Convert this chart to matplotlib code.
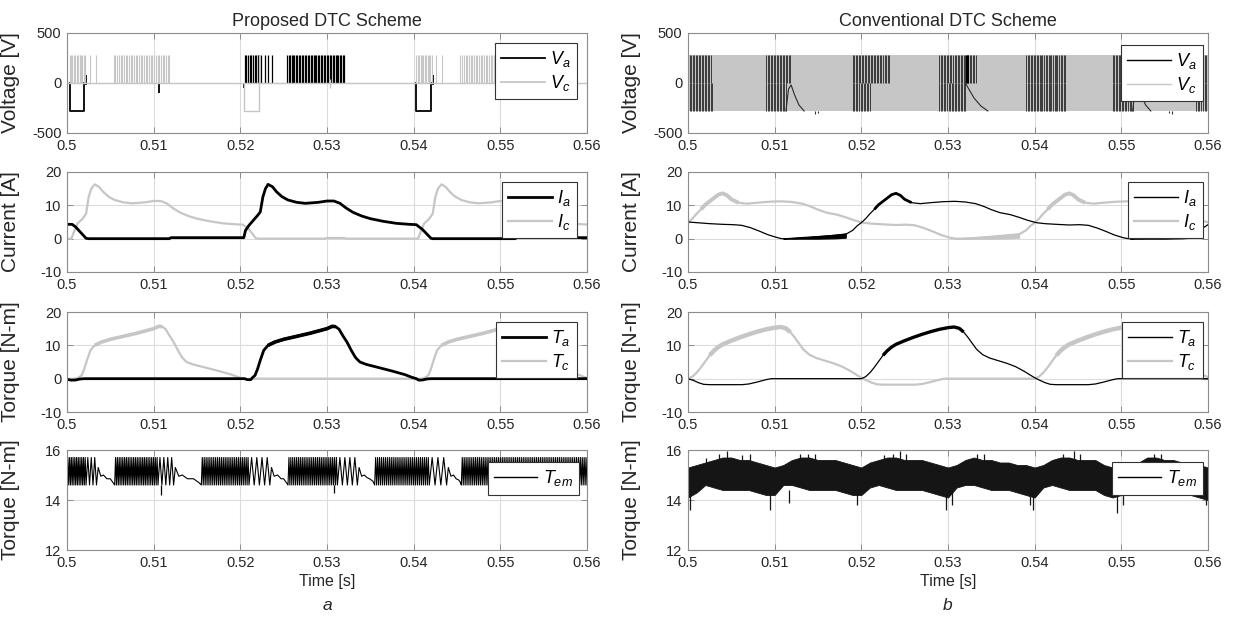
import numpy as np
import matplotlib
matplotlib.use("Agg")
import matplotlib.pyplot as plt
from matplotlib.lines import Line2D

plt.rcParams['font.family'] = ['Liberation Sans', 'DejaVu Sans']
plt.rcParams['mathtext.fontset'] = 'custom'
plt.rcParams['mathtext.rm'] = 'Liberation Sans'
plt.rcParams['mathtext.it'] = 'Liberation Sans:italic'

BLACK = 'black'
GRAY = '#c6c6c6'
TXT = '#262626'
VDC = 280

XTICKS = [0.5, 0.51, 0.52, 0.53, 0.54, 0.55, 0.56]
XTICKLABELS = ['0.5', '0.51', '0.52', '0.53', '0.54', '0.55', '0.56']

# ---------------- (a) proposed DTC ----------------
# voltage pulse bursts: (start, end, number of pulses) to +VDC
pa_vc_bursts = [(0.5003, 0.5021, 12), (0.5026, 0.5026, 1), (0.5033, 0.5033, 1),
                (0.5054, 0.5118, 34), (0.5219, 0.5221, 2),
                (0.5403, 0.5421, 12), (0.5426, 0.5426, 1), (0.5433, 0.5433, 1),
                (0.5454, 0.5518, 34)]
pa_va_bursts = [(0.5205, 0.5224, 11), (0.5228, 0.5236, 3), (0.5254, 0.5320, 40)]
# negative conduction blocks (start, end) at -VDC
pa_va_neg = [(0.5003, 0.5020), (0.5403, 0.5420)]
pa_vc_neg = [(0.5204, 0.5221)]
# short spikes (t, low, high)
pa_va_spikes = [(0.5022, -20, 80), (0.5106, -100, 140), (0.5118, 0, 150),
                (0.5204, -50, 0), (0.5422, -20, 80), (0.5506, -70, 0), (0.5517, 0, 60)]
pa_vc_spikes = [(0.5304, -50, 40)]

# phase currents
pa_t_ia = [0.5000, 0.5006, 0.5010, 0.5016, 0.5022, 0.5025, 0.5118, 0.5120, 0.5204,
           0.5206, 0.5210, 0.5215, 0.5220, 0.5223, 0.5226, 0.5229, 0.5232, 0.5234,
           0.5237, 0.5242, 0.5248, 0.5255, 0.5265, 0.5275, 0.5290, 0.5300, 0.5308,
           0.5315, 0.5322, 0.5330, 0.5340, 0.5350, 0.5365, 0.5380, 0.5395, 0.5403,
           0.5410, 0.5420, 0.5422, 0.5517, 0.5519, 0.5600]
pa_ia = [4.3, 4.3, 3.5, 1.8, 0.1, 0.0, 0.0, 0.3, 0.3,
         2.5, 4.0, 5.5, 7.0, 8.0, 12.5, 15.0, 16.3, 16.0,
         15.6, 14.0, 12.6, 11.6, 10.9, 10.6, 10.9, 11.3, 11.3,
         10.6, 9.2, 7.9, 6.8, 6.0, 5.2, 4.6, 4.3, 4.2,
         2.8, 0.1, 0.0, 0.0, 0.3, 0.3]
pa_t_ic = [0.5000, 0.5005, 0.5008, 0.5012, 0.5018, 0.5022, 0.5025, 0.5028, 0.5032,
           0.5034, 0.5037, 0.5042, 0.5048, 0.5055, 0.5065, 0.5075, 0.5090, 0.5100,
           0.5108, 0.5115, 0.5122, 0.5130, 0.5140, 0.5150, 0.5165, 0.5180, 0.5195,
           0.5203, 0.5210, 0.5218, 0.5222, 0.5298, 0.5300, 0.5320, 0.5322, 0.5405,
           0.5408, 0.5412, 0.5418, 0.5422, 0.5425, 0.5428, 0.5432, 0.5434, 0.5437,
           0.5442, 0.5448, 0.5455, 0.5465, 0.5475, 0.5490, 0.5500, 0.5508, 0.5515,
           0.5522, 0.5530, 0.5540, 0.5550, 0.5565, 0.5580, 0.5595, 0.5600]
pa_ic = [0.0, 0.0, 2.0, 4.5, 6.0, 7.5, 12.5, 15.0, 16.3,
         16.0, 15.5, 14.0, 12.6, 11.6, 10.9, 10.6, 10.9, 11.3,
         11.3, 10.6, 9.2, 7.9, 6.8, 6.0, 5.2, 4.6, 4.3,
         4.2, 2.8, 0.1, 0.0, 0.0, 0.2, 0.2, 0.0, 0.0,
         2.0, 4.5, 6.0, 7.5, 12.5, 15.0, 16.3, 16.0, 15.5,
         14.0, 12.6, 11.6, 10.9, 10.6, 10.9, 11.3, 11.3, 10.6,
         9.2, 7.9, 6.8, 6.0, 5.2, 4.6, 4.3, 4.25]

# phase torques
pa_t_ta = [0.5000, 0.5005, 0.5010, 0.5015, 0.5020, 0.5205, 0.5208, 0.5212, 0.5214,
           0.5217, 0.5220, 0.5223, 0.5227, 0.5232, 0.5240, 0.5250, 0.5260, 0.5270,
           0.5280, 0.5290, 0.5300, 0.5306, 0.5310, 0.5314, 0.5318, 0.5323, 0.5328,
           0.5333, 0.5338, 0.5345, 0.5360, 0.5375, 0.5390, 0.5398, 0.5403, 0.5406,
           0.5410, 0.5415, 0.5420, 0.5600]
pa_ta = [-0.2, -0.45, -0.4, -0.1, 0.0, 0.0, -0.3, -0.3, 0.3,
         1.0, 3.0, 5.5, 8.5, 10.0, 11.0, 11.8, 12.4, 13.0,
         13.6, 14.3, 15.0, 15.7, 15.6, 14.8, 13.0, 11.0, 8.5,
         6.3, 5.0, 4.3, 3.3, 2.3, 1.2, 0.4, 0.0, -0.45,
         -0.4, -0.1, 0.0, 0.0]
pa_t_tc = [0.5000, 0.5010, 0.5013, 0.5017, 0.5020, 0.5023, 0.5027, 0.5032, 0.5040,
           0.5050, 0.5060, 0.5070, 0.5080, 0.5090, 0.5100, 0.5106, 0.5110, 0.5114,
           0.5118, 0.5123, 0.5128, 0.5133, 0.5138, 0.5145, 0.5160, 0.5175, 0.5190,
           0.5198, 0.5203, 0.5208, 0.5212, 0.5410, 0.5413, 0.5417, 0.5420, 0.5423,
           0.5427, 0.5432, 0.5440, 0.5450, 0.5460, 0.5470, 0.5480, 0.5490, 0.5500,
           0.5506, 0.5510, 0.5514, 0.5518, 0.5523, 0.5528, 0.5533, 0.5538, 0.5545,
           0.5560, 0.5575, 0.5590, 0.5598, 0.5600]
pa_tc = [-0.1, 0.0, 0.3, 1.0, 3.0, 5.5, 8.5, 10.0, 11.0,
         11.8, 12.4, 13.0, 13.6, 14.3, 15.0, 15.7, 15.6, 14.8,
         13.0, 11.0, 8.5, 6.3, 5.0, 4.3, 3.3, 2.3, 1.2,
         0.4, 0.0, -0.2, 0.0, 0.0, 0.3, 1.0, 3.0, 5.5,
         8.5, 10.0, 11.0, 11.8, 12.4, 13.0, 13.6, 14.3, 15.0,
         15.7, 15.6, 14.8, 13.0, 11.0, 8.5, 6.3, 5.0, 4.3,
         3.3, 2.3, 1.2, 0.4, 0.2]
# spans with visible torque ripple (drawn thicker)
pa_ta_ripple = [(0.5232, 0.5310)]
pa_tc_ripple = [(0.5032, 0.5110), (0.5432, 0.5510)]

# electromagnetic torque: hysteresis bursts (start, end, teeth) between 14.6 and 15.7
TEM_LO, TEM_HI = 14.6, 15.7
pa_tem_bursts = [(0.5000, 0.5022, 11), (0.5022, 0.5034, 3),
                 (0.5055, 0.5105, 24), (0.5105, 0.5123, 4),
                 (0.5155, 0.5210, 25), (0.5210, 0.5234, 4),
                 (0.5255, 0.5312, 26), (0.5312, 0.5335, 4),
                 (0.5355, 0.5418, 28), (0.5418, 0.5438, 3),
                 (0.5455, 0.5600, 66)]
# free decay between bursts
pa_tem_relax_t = [0.5036, 0.5039, 0.5042, 0.5046, 0.5050, 0.5053,
                  0.5125, 0.5129, 0.5133, 0.5139, 0.5146, 0.5152,
                  0.5236, 0.5239, 0.5243, 0.5247, 0.5250, 0.5253,
                  0.5337, 0.5340, 0.5343, 0.5346, 0.5349, 0.5353,
                  0.5440, 0.5443, 0.5446, 0.5449, 0.5452, 0.5454]
pa_tem_relax = [15.3, 14.95, 15.0, 14.85, 14.85, 14.7,
                15.3, 14.95, 15.0, 14.85, 14.85, 14.7,
                15.3, 14.95, 15.0, 14.85, 14.85, 14.7,
                15.3, 14.95, 15.0, 14.9, 14.85, 14.75,
                15.3, 14.95, 15.0, 14.85, 14.8, 14.7]
pa_tem_spikes = [(0.5108, 14.2), (0.5308, 14.3)]

# ---------------- (b) conventional DTC ----------------
# V_a switching zones (start, end, pulses) in upper (+VDC) and lower (-VDC) half
pb_va_top = [(0.5000, 0.5026, 16), (0.5090, 0.5118, 17), (0.5190, 0.5232, 25),
             (0.5290, 0.5332, 25), (0.5390, 0.5435, 27), (0.5490, 0.5520, 18),
             (0.5586, 0.5600, 8)]
pb_va_bot = [(0.5000, 0.5028, 17), (0.5090, 0.5113, 14), (0.5190, 0.5210, 12),
             (0.5290, 0.5320, 18), (0.5390, 0.5435, 27), (0.5490, 0.5513, 14),
             (0.5586, 0.5600, 8)]
pb_va_arc1_t = [0.5113, 0.5116, 0.5119, 0.5123, 0.5128, 0.5134]
pb_va_arc1 = [-280, -60, -20, -120, -220, -280]
pb_va_arc2_t = [0.5320, 0.5324, 0.5330, 0.5338, 0.5346]
pb_va_arc2 = [0, -60, -150, -230, -280]
pb_va_arc3_t = [0.5513, 0.5516, 0.5519, 0.5523, 0.5528, 0.5534]
pb_va_arc3 = [-280, -60, -20, -120, -220, -280]
pb_va_spikes = [(0.5147, -310), (0.5150, -300), (0.5555, -300), (0.5558, -310)]
pb_va_heavy = [0.5322]
# V_c switches between +VDC and -VDC over the whole window
pb_vc_span = [0.5000, 0.5600]

pb_t_ia = [0.5000, 0.5010, 0.5025, 0.5040, 0.5052, 0.5062, 0.5072, 0.5082, 0.5092,
           0.5102, 0.5108, 0.5125, 0.5182, 0.5190, 0.5195, 0.5200, 0.5205, 0.5210,
           0.5215, 0.5220, 0.5225, 0.5230, 0.5235, 0.5240, 0.5245, 0.5250, 0.5258,
           0.5268, 0.5280, 0.5295, 0.5308, 0.5320, 0.5332, 0.5342, 0.5350, 0.5360,
           0.5372, 0.5382, 0.5392, 0.5402, 0.5412, 0.5425, 0.5440, 0.5452, 0.5462,
           0.5472, 0.5482, 0.5492, 0.5502, 0.5508, 0.5525, 0.5582, 0.5590, 0.5600]
pb_ia = [5.0, 4.8, 4.5, 4.3, 4.2, 4.0, 3.3, 2.3, 1.2,
         0.4, 0.0, 0.0, 1.3, 2.5, 3.8, 4.8, 6.0, 7.5,
         8.8, 10.2, 11.2, 12.2, 13.2, 13.6, 13.0, 11.8, 10.8,
         10.5, 10.8, 11.1, 11.2, 11.0, 10.5, 9.6, 8.7, 7.8,
         7.2, 6.4, 5.5, 4.8, 4.5, 4.3, 4.1, 4.2, 4.0,
         3.2, 2.2, 1.1, 0.3, 0.0, 0.0, 1.3, 2.5, 4.2]
pb_t_ic = [0.5000, 0.5005, 0.5010, 0.5015, 0.5020, 0.5025, 0.5030, 0.5035, 0.5040,
           0.5045, 0.5050, 0.5058, 0.5068, 0.5080, 0.5095, 0.5108, 0.5120, 0.5132,
           0.5142, 0.5150, 0.5160, 0.5172, 0.5182, 0.5192, 0.5202, 0.5212, 0.5225,
           0.5240, 0.5252, 0.5262, 0.5272, 0.5282, 0.5292, 0.5302, 0.5308, 0.5325,
           0.5382, 0.5390, 0.5395, 0.5400, 0.5405, 0.5410, 0.5415, 0.5420, 0.5425,
           0.5430, 0.5435, 0.5440, 0.5445, 0.5450, 0.5458, 0.5468, 0.5480, 0.5495,
           0.5508, 0.5520, 0.5532, 0.5542, 0.5550, 0.5560, 0.5572, 0.5582, 0.5592,
           0.5600]
pb_ic = [4.8, 6.0, 7.5, 8.8, 10.2, 11.2, 12.2, 13.2, 13.6,
         13.0, 11.8, 10.8, 10.5, 10.8, 11.1, 11.2, 11.0, 10.5,
         9.6, 8.7, 7.8, 7.2, 6.4, 5.5, 4.8, 4.5, 4.3,
         4.1, 4.2, 4.0, 3.2, 2.2, 1.1, 0.3, 0.0, 0.0,
         1.3, 2.5, 3.8, 4.8, 6.0, 7.5, 8.8, 10.2, 11.2,
         12.2, 13.2, 13.6, 13.0, 11.8, 10.8, 10.5, 10.8, 11.1,
         11.2, 11.0, 10.5, 9.6, 8.7, 7.8, 7.2, 6.4, 5.5,
         4.9]
# chattering band while the phase is switched off: (t, low, high)
pb_ia_band = [(0.5110, 0.0, 0.1), (0.5125, 0.0, 0.4), (0.5150, 0.0, 0.8),
              (0.5170, 0.1, 1.2), (0.5182, 0.3, 1.6)]
pb_ia_band2 = [(0.5510, 0.0, 0.1), (0.5525, 0.0, 0.4), (0.5550, 0.0, 0.8),
               (0.5570, 0.1, 1.2), (0.5582, 0.3, 1.6)]
pb_ic_band = [(0.5310, 0.0, 0.1), (0.5325, 0.0, 0.4), (0.5350, 0.0, 0.8),
              (0.5370, 0.1, 1.2), (0.5382, 0.3, 1.6)]
pb_ia_ripple = [(0.5215, 0.5262)]
pb_ic_ripple = [(0.5015, 0.5062), (0.5415, 0.5462)]

pb_t_ta = [0.5000, 0.5006, 0.5012, 0.5018, 0.5025, 0.5062, 0.5070, 0.5080, 0.5090,
           0.5096, 0.5200, 0.5205, 0.5210, 0.5215, 0.5220, 0.5225, 0.5230, 0.5235,
           0.5240, 0.5250, 0.5260, 0.5270, 0.5280, 0.5290, 0.5300, 0.5307, 0.5313,
           0.5318, 0.5323, 0.5328, 0.5333, 0.5340, 0.5348, 0.5358, 0.5368, 0.5378,
           0.5388, 0.5396, 0.5402, 0.5406, 0.5412, 0.5418, 0.5425, 0.5462, 0.5470,
           0.5480, 0.5490, 0.5496, 0.5600]
pb_ta = [0.0, -0.5, -1.2, -1.7, -1.8, -1.8, -1.6, -1.0, -0.3,
         0.0, 0.0, 0.6, 1.8, 3.4, 5.2, 7.0, 8.4, 9.5,
         10.3, 11.4, 12.4, 13.3, 14.1, 14.8, 15.3, 15.5, 15.1,
         14.0, 12.4, 10.6, 8.8, 7.2, 6.2, 5.4, 4.6, 3.6,
         2.2, 0.9, 0.0, -0.5, -1.2, -1.7, -1.8, -1.8, -1.6,
         -1.0, -0.3, 0.0, 0.0]
pb_t_tc = [0.5000, 0.5005, 0.5010, 0.5015, 0.5020, 0.5025, 0.5030, 0.5035, 0.5040,
           0.5050, 0.5060, 0.5070, 0.5080, 0.5090, 0.5100, 0.5107, 0.5113, 0.5118,
           0.5123, 0.5128, 0.5133, 0.5140, 0.5148, 0.5158, 0.5168, 0.5178, 0.5188,
           0.5196, 0.5202, 0.5206, 0.5212, 0.5218, 0.5225, 0.5262, 0.5270, 0.5280,
           0.5290, 0.5296, 0.5400, 0.5405, 0.5410, 0.5415, 0.5420, 0.5425, 0.5430,
           0.5435, 0.5440, 0.5450, 0.5460, 0.5470, 0.5480, 0.5490, 0.5500, 0.5507,
           0.5513, 0.5518, 0.5523, 0.5528, 0.5533, 0.5540, 0.5548, 0.5558, 0.5568,
           0.5578, 0.5588, 0.5596, 0.5600]
pb_tc = [0.0, 0.6, 1.8, 3.4, 5.2, 7.0, 8.4, 9.5, 10.3,
         11.4, 12.4, 13.3, 14.1, 14.8, 15.3, 15.5, 15.1, 14.0,
         12.4, 10.6, 8.8, 7.2, 6.2, 5.4, 4.6, 3.6, 2.2,
         0.9, 0.0, -0.5, -1.2, -1.7, -1.8, -1.8, -1.6, -1.0,
         -0.3, 0.0, 0.0, 0.6, 1.8, 3.4, 5.2, 7.0, 8.4,
         9.5, 10.3, 11.4, 12.4, 13.3, 14.1, 14.8, 15.3, 15.5,
         15.1, 14.0, 12.4, 10.6, 8.8, 7.2, 6.2, 5.4, 4.6,
         3.6, 2.2, 0.9, 0.5]
pb_ta_ripple = [(0.5222, 0.5318)]
pb_tc_ripple = [(0.5022, 0.5118), (0.5422, 0.5518)]

# electromagnetic torque envelope, sampled every 1 ms
pb_tem_t = [0.500, 0.501, 0.502, 0.503, 0.504, 0.505, 0.506, 0.507, 0.508, 0.509,
            0.510, 0.511, 0.512, 0.513, 0.514, 0.515, 0.516, 0.517, 0.518, 0.519,
            0.520, 0.521, 0.522, 0.523, 0.524, 0.525, 0.526, 0.527, 0.528, 0.529,
            0.530, 0.531, 0.532, 0.533, 0.534, 0.535, 0.536, 0.537, 0.538, 0.539,
            0.540, 0.541, 0.542, 0.543, 0.544, 0.545, 0.546, 0.547, 0.548, 0.549,
            0.550, 0.551, 0.552, 0.553, 0.554, 0.555, 0.556, 0.557, 0.558, 0.559,
            0.560]
pb_tem_hi = [15.3, 15.4, 15.5, 15.6, 15.7, 15.7, 15.6, 15.6, 15.5, 15.4,
             15.3, 15.4, 15.6, 15.7, 15.7, 15.6, 15.6, 15.6, 15.5, 15.4,
             15.3, 15.5, 15.6, 15.7, 15.7, 15.6, 15.6, 15.6, 15.5, 15.4,
             15.3, 15.4, 15.6, 15.7, 15.6, 15.6, 15.5, 15.5, 15.4, 15.4,
             15.3, 15.4, 15.6, 15.7, 15.7, 15.6, 15.6, 15.6, 15.4, 15.3,
             15.3, 15.4, 15.5, 15.7, 15.7, 15.6, 15.6, 15.5, 15.5, 15.4,
             15.3]
pb_tem_lo = [14.1, 14.3, 14.6, 14.5, 14.4, 14.4, 14.4, 14.4, 14.3, 14.2,
             14.2, 14.6, 14.6, 14.5, 14.4, 14.4, 14.4, 14.4, 14.3, 14.2,
             14.2, 14.5, 14.6, 14.5, 14.4, 14.4, 14.4, 14.4, 14.3, 14.2,
             14.1, 14.5, 14.6, 14.6, 14.5, 14.4, 14.4, 14.4, 14.3, 14.2,
             14.1, 14.5, 14.6, 14.5, 14.4, 14.4, 14.4, 14.4, 14.2, 14.1,
             14.2, 14.5, 14.5, 14.4, 14.4, 14.4, 14.4, 14.4, 14.2, 14.1,
             14.0]
# ripple extremes that stick out of the envelope (t, value)
pb_tem_spikes_dn = [(0.5002, 13.6), (0.5095, 13.6), (0.5117, 13.9), (0.5195, 13.8),
                    (0.5298, 13.6), (0.5305, 13.8), (0.5395, 13.8), (0.5398, 13.6),
                    (0.5495, 13.5), (0.5502, 13.8), (0.5598, 13.8)]
pb_tem_spikes_up = [(0.5021, 15.7), (0.5036, 15.85), (0.5045, 15.95), (0.5062, 15.8),
                    (0.5071, 15.85), (0.5129, 15.85), (0.5138, 15.85), (0.5146, 15.85),
                    (0.5226, 15.8), (0.5237, 15.85), (0.5245, 15.95), (0.5252, 15.85),
                    (0.5333, 15.85), (0.5342, 15.85), (0.5433, 15.85), (0.5445, 15.95),
                    (0.5452, 15.85), (0.5538, 15.85), (0.5546, 15.85)]

# ---------------- figure ----------------
W, H = 1234, 621
fig = plt.figure(figsize=(W / 100, H / 100), dpi=100)
COL_LEFT = [67, 688]
ROW_TOP = [33, 172, 312, 450]
AX_W, AX_H = 520, 100

axes = [[fig.add_axes([c / W, 1 - (r + AX_H) / H, AX_W / W, AX_H / H]) for c in COL_LEFT]
        for r in ROW_TOP]


def style(ax, ylim, yticks, ylabel):
    ax.set_xlim(0.5, 0.56)
    ax.set_ylim(*ylim)
    ax.set_xticks(XTICKS)
    ax.set_xticklabels(XTICKLABELS)
    ax.set_yticks(yticks)
    ax.set_yticklabels([str(v) for v in yticks])
    ax.grid(True, color='#dcdcdc', lw=0.8)
    ax.set_axisbelow(True)
    for s in ax.spines.values():
        s.set_color('#8c8c8c')
        s.set_linewidth(0.8)
    ax.tick_params(direction='in', length=4, width=0.7, color='#8c8c8c', top=True,
                   right=True, labelsize=10.5, labelcolor=TXT, pad=4)
    ax.set_ylabel(ylabel, fontsize=15, color=TXT)
    ax.yaxis.set_label_coords(-0.09, 0.5)


def legend(ax, labels, lws, xpad, ypad):
    handles = [Line2D([], [], color=c, lw=w) for c, w in zip([BLACK, GRAY], lws)]
    leg = ax.legend(handles[:len(labels)], labels, loc='upper right',
                    bbox_to_anchor=(1 - xpad / AX_W, 1 - ypad / AX_H), fontsize=13,
                    handlelength=2.4, handletextpad=0.3, borderpad=0.35,
                    labelspacing=0.2, frameon=True, fancybox=False, framealpha=1,
                    borderaxespad=0)
    leg.get_frame().set_edgecolor('#333333')
    leg.get_frame().set_linewidth(0.8)


def pulses(ax, bursts, level, color, lw):
    for t0, t1, n in bursts:
        ax.vlines(np.linspace(t0, t1, n), 0, level, color=color, lw=lw)


def blocks(ax, spans, color, lw):
    for t0, t1 in spans:
        ax.plot([t0, t0, t1, t1], [0, -VDC, -VDC, 0], color=color, lw=lw)


def ripple(ax, t, v, spans, color, lw):
    t = np.asarray(t)
    v = np.asarray(v)
    for a, b in spans:
        m = (t >= a) & (t <= b)
        ax.plot(t[m], v[m], color=color, lw=lw, solid_capstyle='butt')


def band(ax, rows, color):
    rows = np.asarray(rows)
    ax.fill_between(rows[:, 0], rows[:, 1], rows[:, 2], color=color, lw=0.8,
                    edgecolor=color)


# ---- (a) voltage
ax = axes[0][0]
blocks(ax, pa_va_neg, BLACK, 1.3)
pulses(ax, pa_va_bursts, VDC, BLACK, 0.9)
for t, lo, hi in pa_va_spikes:
    ax.vlines(t, lo, hi, color=BLACK, lw=1.3)
ax.plot([0.5, 0.56], [0, 0], color=GRAY, lw=1.0)
pulses(ax, pa_vc_bursts, VDC, GRAY, 0.8)
blocks(ax, pa_vc_neg, GRAY, 1.0)
for t, lo, hi in pa_vc_spikes:
    ax.vlines(t, lo, hi, color=GRAY, lw=1.0)
style(ax, (-500, 500), [-500, 0, 500], 'Voltage [V]')
ax.set_title('Proposed DTC Scheme', fontsize=13, color=TXT, pad=5)
legend(ax, [r'$V_a$', r'$V_c$'], [1.3, 1.3], 10, 10)

# ---- (b) voltage
ax = axes[0][1]
ax.fill_between(pb_vc_span, -VDC, VDC, color=GRAY, lw=0)
pulses(ax, pb_va_top, VDC, '#3a3a3a', 0.7)
pulses(ax, pb_va_bot, -VDC, '#3a3a3a', 0.7)
for tt, vv in [(pb_va_arc1_t, pb_va_arc1), (pb_va_arc2_t, pb_va_arc2),
               (pb_va_arc3_t, pb_va_arc3)]:
    ax.plot(tt, vv, color='#2a2a2a', lw=0.8)
for t, lo in pb_va_spikes:
    ax.vlines(t, lo, -VDC, color='#333333', lw=0.8)
ax.vlines(pb_va_heavy, 0, VDC, color=BLACK, lw=2.2)
style(ax, (-500, 500), [-500, 0, 500], 'Voltage [V]')
ax.set_title('Conventional DTC Scheme', fontsize=13, color=TXT, pad=5)
legend(ax, [r'$V_a$', r'$V_c$'], [1.0, 1.0], 5, 12)

# ---- (a) current
ax = axes[1][0]
ax.plot(pa_t_ic, pa_ic, color=GRAY, lw=1.6)
ax.plot(pa_t_ia, pa_ia, color=BLACK, lw=2.0)
style(ax, (-10, 20), [-10, 0, 10, 20], 'Current [A]')
legend(ax, [r'$I_a$', r'$I_c$'], [2.0, 1.6], 10, 10)

# ---- (b) current
ax = axes[1][1]
ax.plot(pb_t_ic, pb_ic, color=GRAY, lw=1.6)
ripple(ax, pb_t_ic, pb_ic, pb_ic_ripple, GRAY, 2.8)
band(ax, pb_ic_band, GRAY)
ax.plot(pb_t_ia, pb_ia, color=BLACK, lw=0.9)
ripple(ax, pb_t_ia, pb_ia, pb_ia_ripple, BLACK, 2.0)
band(ax, pb_ia_band, BLACK)
band(ax, pb_ia_band2, BLACK)
style(ax, (-10, 20), [-10, 0, 10, 20], 'Current [A]')
legend(ax, [r'$I_a$', r'$I_c$'], [1.0, 1.6], 5, 10)

# ---- (a) phase torque
ax = axes[2][0]
ax.plot(pa_t_tc, pa_tc, color=GRAY, lw=1.6)
ripple(ax, pa_t_tc, pa_tc, pa_tc_ripple, GRAY, 2.6)
ax.plot(pa_t_ta, pa_ta, color=BLACK, lw=2.0)
ripple(ax, pa_t_ta, pa_ta, pa_ta_ripple, BLACK, 2.6)
style(ax, (-10, 20), [-10, 0, 10, 20], 'Torque [N-m]')
legend(ax, [r'$T_a$', r'$T_c$'], [2.0, 1.6], 10, 10)

# ---- (b) phase torque
ax = axes[2][1]
ax.plot(pb_t_tc, pb_tc, color=GRAY, lw=1.6)
ripple(ax, pb_t_tc, pb_tc, pb_tc_ripple, GRAY, 3.2)
ax.plot(pb_t_ta, pb_ta, color=BLACK, lw=0.9)
ripple(ax, pb_t_ta, pb_ta, pb_ta_ripple, BLACK, 2.4)
style(ax, (-10, 20), [-10, 0, 10, 20], 'Torque [N-m]')
legend(ax, [r'$T_a$', r'$T_c$'], [1.0, 1.6], 5, 10)

# ---- (a) electromagnetic torque
ax = axes[3][0]
tt, vv = list(pa_tem_relax_t), list(pa_tem_relax)
for t0, t1, n in pa_tem_bursts:
    ts = np.linspace(t0, t1, 2 * n + 1)
    tt += list(ts)
    vv += [TEM_LO if i % 2 == 0 else TEM_HI for i in range(2 * n + 1)]
order = np.argsort(tt, kind='stable')
ax.plot(np.asarray(tt)[order], np.asarray(vv)[order], color=BLACK, lw=0.8)
for t, v in pa_tem_spikes:
    ax.vlines(t, v, TEM_LO, color=BLACK, lw=0.9)
style(ax, (12, 16), [12, 14, 16], 'Torque [N-m]')
ax.set_xlabel('Time [s]', fontsize=11.5, color=TXT, labelpad=3)
legend(ax, [r'$T_{em}$'], [1.0], 8, 12)

# ---- (b) electromagnetic torque
ax = axes[3][1]
ax.fill_between(pb_tem_t, pb_tem_lo, pb_tem_hi, color='#151515', lw=0.6,
                edgecolor='#151515')
for t, v in pb_tem_spikes_dn:
    ax.vlines(t, v, 14.4, color='#151515', lw=0.9)
for t, v in pb_tem_spikes_up:
    ax.vlines(t, 15.4, v, color='#151515', lw=0.9)
style(ax, (12, 16), [12, 14, 16], 'Torque [N-m]')
ax.set_xlabel('Time [s]', fontsize=11.5, color=TXT, labelpad=3)
legend(ax, [r'$T_{em}$'], [1.0], 5, 12)

fig.text((67 + 260) / W, 1 - 606 / H, 'a', fontsize=12.5, style='italic', color=TXT,
         ha='center', va='center')
fig.text((688 + 260) / W, 1 - 606 / H, 'b', fontsize=12.5, style='italic', color=TXT,
         ha='center', va='center')

fig.savefig('out.png', dpi=100)
